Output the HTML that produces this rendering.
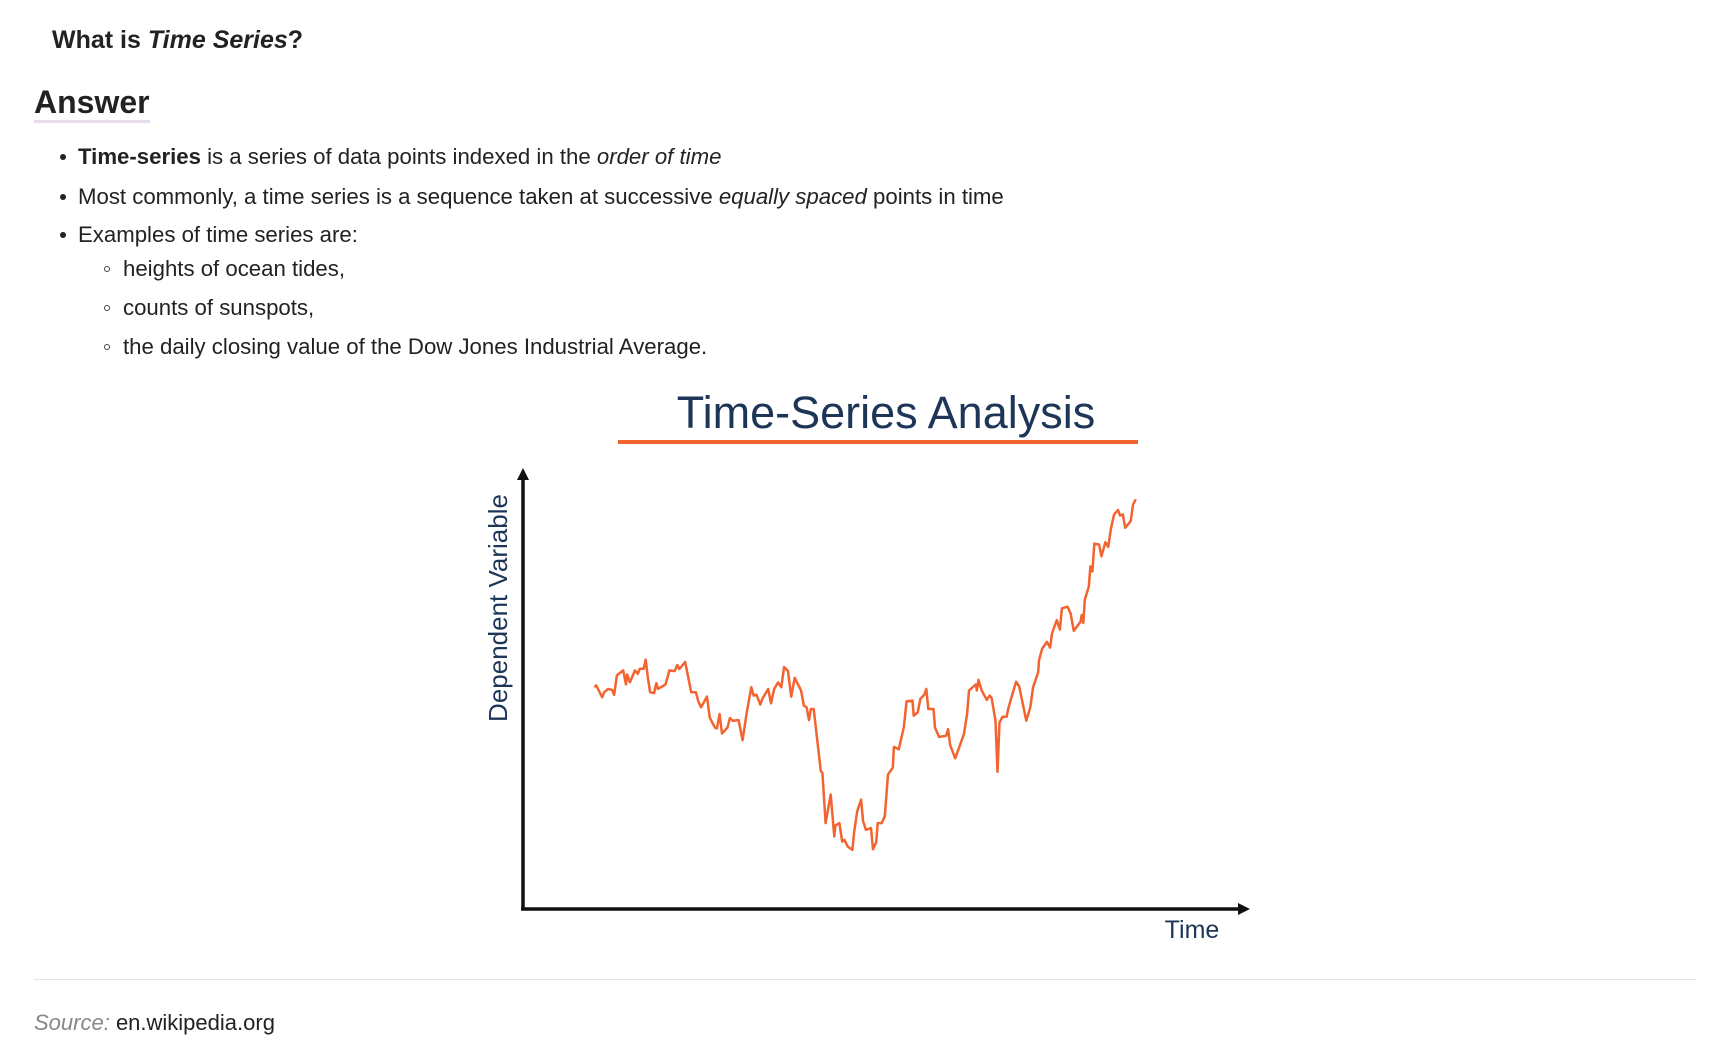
<!DOCTYPE html>
<html><head><meta charset="utf-8">
<style>
body{margin:0;width:1716px;height:1062px;background:#fff;font-family:"Liberation Sans",sans-serif;color:#222;position:relative;overflow:hidden}
.abs{position:absolute;white-space:nowrap}
.li{font-size:22.2px;position:absolute;white-space:nowrap}
.dot{position:absolute;width:6px;height:6px;border-radius:50%;background:#222}
.circ{position:absolute;width:6px;height:6px;border-radius:50%;border:1.3px solid #444;box-sizing:border-box}
</style></head><body>
<div class="abs" style="left:52px;top:26px;font-size:25px;font-weight:bold">What is <i>Time Series</i>?</div>
<div class="abs" style="left:34px;top:84px;font-size:32px;font-weight:bold;border-bottom:3px solid #eadcef;line-height:36px">Answer</div>

<div class="dot" style="left:60px;top:154px"></div>
<div class="li" style="left:78px;top:144px"><b>Time-series</b> is a series of data points indexed in the <i>order of time</i></div>
<div class="dot" style="left:60px;top:194px"></div>
<div class="li" style="left:78px;top:184px">Most commonly, a time series is a sequence taken at successive <i>equally spaced</i> points in time</div>
<div class="dot" style="left:60px;top:232px"></div>
<div class="li" style="left:78px;top:222px">Examples of time series are:</div>
<div class="circ" style="left:104px;top:266px"></div>
<div class="li" style="left:123px;top:256px">heights of ocean tides,</div>
<div class="circ" style="left:104px;top:305px"></div>
<div class="li" style="left:123px;top:295px">counts of sunspots,</div>
<div class="circ" style="left:104px;top:344px"></div>
<div class="li" style="left:123px;top:334px">the daily closing value of the Dow Jones Industrial Average.</div>

<svg id="chart" width="1716" height="1062" style="position:absolute;left:0;top:0">
<text x="886" y="428" text-anchor="middle" font-size="45" fill="#1d3557" font-family="Liberation Sans, sans-serif">Time-Series Analysis</text>
<rect x="618" y="440" width="520" height="4" fill="#f26430"/>
<line x1="523" y1="476" x2="523" y2="909" stroke="#111" stroke-width="3.5"/>
<polygon points="517,480 523,468 529,480" fill="#111"/>
<line x1="521" y1="909" x2="1240" y2="909" stroke="#111" stroke-width="3.5"/>
<polygon points="1238,903 1250,909 1238,915" fill="#111"/>
<text transform="translate(507,608) rotate(-90)" text-anchor="middle" font-size="26" fill="#1d3557" font-family="Liberation Sans, sans-serif">Dependent Variable</text>
<text x="1192" y="938" text-anchor="middle" font-size="25" fill="#1d3557" font-family="Liberation Sans, sans-serif">Time</text>
</svg>

<div class="abs" style="left:34px;top:979px;width:1662px;height:1px;background:#e3e3e3"></div>
<div class="abs" style="left:34px;top:1010px;font-size:22px"><i style="color:#888">Source:</i> en.wikipedia.org</div>

<script>
const times=[35,40,55,60,70,80,85,92,108,115,118,125,138,145,150,160,165,170,176,186,192,196,215,225,238,245,250,265,280,292,298,305,320,327,340,345,352,358,372,378,385,400,410,420,432,438,445,455,460,475,482,490,500,508,515,525,533,542,558,565,572,578,583,590,608,612,620,633,642,645,655,662,668,676,688,692,700,710,715,722,735,740,748,752,762,770,778,790,793,805,818,825,840,843,853,860,870,875,880,893,897,907,925,930,935,948,970,978,983,1000,1003,1007,1015,1028,1035,1040,1050,1055,1060,1068,1078,1082,1090,1102,1110,1128,1138,1145,1158,1160,1168,1180,1188,1193,1205,1213,1218,1232,1240,1248,1265,1268,1272,1276,1286,1290,1295,1300,1312,1318,1328,1335,1342,1350,1360,1365,1372,1378,1392,1398,1405];
const values=[57,57.5,54,55.5,56.5,56.2,54.7,60.5,62,57.8,60.8,58.5,62,61,62.5,62.5,65.2,60.2,55.5,55.2,58.2,56.5,57.8,62,61.8,63.6,62.4,64.5,55.5,55.5,52.8,51,54.2,48,45,44.7,49,43.2,45,47.8,47,47.2,41.2,49,57,54.5,54.8,51.8,53.5,56.5,52.2,56.5,58.4,57,63,61.8,54.2,59.8,56,51.5,51,47.2,50.5,50.5,32,31.5,16.5,25,12.5,15.8,16.5,11,11.5,9.5,8.5,13.5,20,23.5,17,14.5,15,8.7,10.8,16.5,16.5,18.5,31,33,39.2,38.5,45,52.8,53,48.5,49.5,53.5,54.8,56.5,50.5,50.5,45,42.2,42.5,44.5,39.8,35.8,43,49,56,57.8,56,59.2,56,53.2,54.5,53.8,47,31.8,46.5,48.2,48.2,50.5,53.8,58.6,57.2,47,51,57,61.5,65,68.5,70.5,68.8,73,77,74.2,80.5,81,79,73.8,76.5,78.5,76.2,83,87,93,91.5,99.8,99.5,96,100.2,98.8,104.2,108.5,109.8,108.2,108.5,104.5,106.5,111.5,113];
function xScale(t){return 580.5+t/2.53;}
function yScale(v){return 459+(1250-10*v)/2.98;}
const svg=document.getElementById('chart');
const p=document.createElementNS('http://www.w3.org/2000/svg','path');
p.setAttribute('d',times.map((t,i)=>(i?'L':'M')+xScale(t).toFixed(1)+','+yScale(values[i]).toFixed(1)).join(''));
p.setAttribute('fill','none');p.setAttribute('stroke','#f26430');p.setAttribute('stroke-width','2.5');p.setAttribute('stroke-linejoin','round');


svg.appendChild(p);
</script>
</body></html>
